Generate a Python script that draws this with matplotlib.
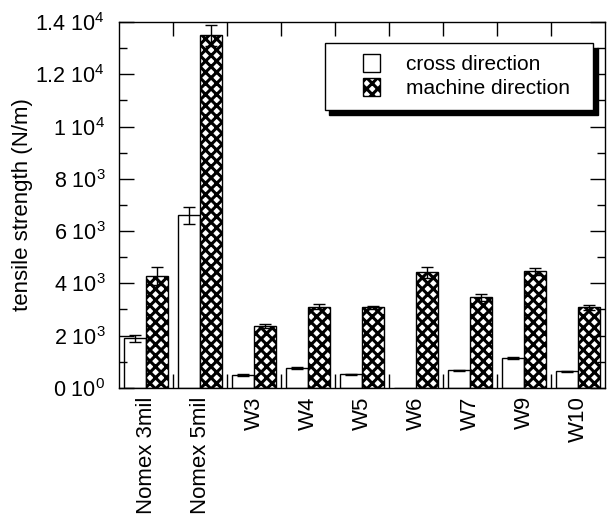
import numpy as np
import matplotlib
matplotlib.use("Agg")
import matplotlib.pyplot as plt
from matplotlib.patches import Patch, Rectangle
from matplotlib.legend_handler import HandlerPatch

plt.rcParams['font.family'] = ['Liberation Sans', 'DejaVu Sans']
plt.rcParams['mathtext.default'] = 'regular'
plt.rcParams['hatch.linewidth'] = 2.2

# data (N/m)
samples = ['Nomex 3mil', 'Nomex 5mil', 'W3', 'W4', 'W5', 'W6', 'W7', 'W9', 'W10']
cross = [1900, 6600, 480, 750, 510, 0, 670, 1140, 630]
cross_err = [130, 330, 40, 40, 20, 0, 30, 50, 30]
machine = [4280, 13500, 2360, 3110, 3080, 4420, 3460, 4460, 3080]
machine_err = [350, 400, 80, 80, 70, 200, 120, 130, 100]
ytick_vals = [0, 2000, 4000, 6000, 8000, 10000, 12000, 14000]
ytick_labels = ['0 10$^0$', '2 10$^3$', '4 10$^3$', '6 10$^3$', '8 10$^3$',
                '1 10$^4$', '1.2 10$^4$', '1.4 10$^4$']

x = np.arange(len(samples))
w = 0.41

fig = plt.figure(figsize=(6.08, 5.15), dpi=100)
ax = fig.add_axes([0.196, 0.247, 0.799, 0.710])

ax.bar(x - w / 2, cross, w, color='white', edgecolor='black', linewidth=1.0)
ax.bar(x + w / 2, machine, w, color='white', edgecolor='black', linewidth=1.0,
       hatch='xxx')
ce = [e if e > 0 else np.nan for e in cross_err]
ax.errorbar(x - w / 2, cross, yerr=ce, fmt='none', ecolor='black',
            elinewidth=1.0, capsize=4, capthick=1.0)
ax.errorbar(x + w / 2, machine, yerr=machine_err, fmt='none', ecolor='black',
            elinewidth=1.0, capsize=4, capthick=1.0)

ax.set_xlim(-0.5, len(samples) - 0.5)
ax.set_ylim(0, 14000)

ax.set_xticks(x)
ax.set_xticklabels(samples, rotation=90, fontsize=16)
ax.set_xticks(np.arange(0.5, len(samples) - 1, 1.0), minor=True)
ax.tick_params(axis='x', which='major', length=0, pad=6)
ax.tick_params(axis='x', which='minor', direction='in', length=10, width=1,
               top=True, bottom=True)

ax.set_yticks(ytick_vals)
ax.set_yticklabels(ytick_labels, fontsize=15.5)
ax.set_yticks(np.arange(1000, 14000, 2000), minor=True)
ax.tick_params(axis='y', which='major', direction='in', length=11, width=1,
               left=True, right=True, pad=10)
ax.tick_params(axis='y', which='minor', direction='in', length=6, width=1,
               left=True, right=True)
ax.set_ylabel('tensile strength (N/m)', fontsize=16, labelpad=2)

for s in ax.spines.values():
    s.set_linewidth(1.0)


class SquareHandler(HandlerPatch):
    def create_artists(self, legend, orig_handle, xdescent, ydescent,
                       width, height, fontsize, trans):
        side = height
        p = Rectangle((width - side - xdescent, -ydescent), side, side,
                      facecolor='white', edgecolor='black', linewidth=1.0,
                      hatch=orig_handle.get_hatch(), transform=trans)
        return [p]


handles = [Patch(facecolor='white', edgecolor='black'),
           Patch(facecolor='white', edgecolor='black', hatch='xxx')]
leg = ax.legend(handles, ['cross direction  ', 'machine direction  '],
                loc='upper right', bbox_to_anchor=(0.975, 0.943),
                fontsize=15, frameon=True, fancybox=False,
                edgecolor='black', framealpha=1, borderpad=0.55,
                handlelength=2.1, handleheight=0.9, handletextpad=1.25,
                labelspacing=0.2, borderaxespad=0,
                shadow={'color': 'black', 'alpha': 1, 'ox': 3.5, 'oy': -3.5},
                handler_map={Patch: SquareHandler()})
leg.get_frame().set_linewidth(1.0)

fig.savefig('out.png', dpi=100)
